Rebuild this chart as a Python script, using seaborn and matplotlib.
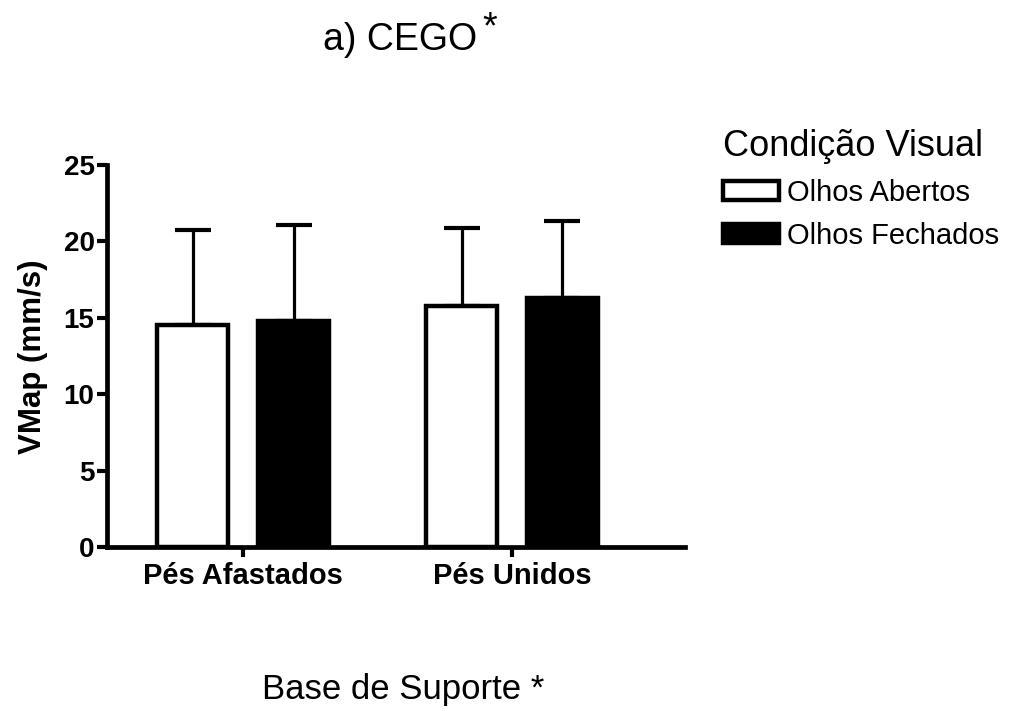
import matplotlib
matplotlib.use("Agg")
import matplotlib.pyplot as plt
import pandas as pd
import seaborn as sns

# Mean postural sway velocity (VMap) with standard deviations
bases = ["Pés Afastados", "Pés Afastados", "Pés Unidos", "Pés Unidos"]
conditions = ["Olhos Abertos", "Olhos Fechados", "Olhos Abertos", "Olhos Fechados"]
means = [14.5, 14.8, 15.8, 16.3]
sds = [6.25, 6.25, 5.05, 5.0]
y_ticks = [0, 5, 10, 15, 20, 25]

df = pd.DataFrame({"Base": bases, "Condição": conditions, "VMap": means, "SD": sds})

sns.set_theme(style="ticks")
plt.rcParams["font.family"] = ["Liberation Sans", "DejaVu Sans"]
plt.rcParams.update({
    "text.color": "black",
    "axes.labelcolor": "black",
    "axes.edgecolor": "black",
    "xtick.color": "black",
    "ytick.color": "black",
})

fig = plt.figure(figsize=(10.23, 7.11), dpi=100)
ax = fig.add_axes([0.1046, 0.2307, 0.5650, 0.5373])

sns.barplot(
    data=df, x="Base", y="VMap", hue="Condição",
    palette={"Olhos Abertos": "white", "Olhos Fechados": "black"},
    edgecolor="black", linewidth=3.2, width=0.75, gap=0.3,
    errorbar=None, ax=ax, zorder=2,
)

# upper-only SD error bars at each bar centre
sd_lookup = {(b, c): s for b, c, s in zip(bases, conditions, sds)}
cats = list(dict.fromkeys(bases))
hues = list(dict.fromkeys(conditions))
xs, ys, es = [], [], []
for hue, container in zip(hues, ax.containers):
    for cat, patch in zip(cats, container):
        xs.append(patch.get_x() + patch.get_width() / 2)
        ys.append(patch.get_height())
        es.append(sd_lookup[(cat, hue)])
ax.errorbar(xs, ys, yerr=[[0] * len(es), es], fmt="none", ecolor="black",
            elinewidth=2.3, capsize=13, capthick=3, zorder=1)

ax.set_ylim(0, 25)
ax.set_yticks(y_ticks)
ax.set_xlim(-0.506, 1.643)
sns.despine(ax=ax)
for side in ("left", "bottom"):
    ax.spines[side].set_linewidth(3.4)
    ax.spines[side].set_color("black")
ax.tick_params(axis="both", length=7, width=3, colors="black")
ax.tick_params(axis="y", pad=2, labelsize=20)
ax.tick_params(axis="x", pad=4, labelsize=21)
for lbl in ax.get_xticklabels() + ax.get_yticklabels():
    lbl.set_fontweight("bold")

ax.set_ylabel("VMap (mm/s)", fontsize=22.5, fontweight="bold", va="center")
ax.yaxis.set_label_coords(-0.128, 0.497)
ax.set_xlabel("Base de Suporte *", fontsize=25, va="center")
ax.xaxis.set_label_coords(0.512, -0.372)

handles, labels = ax.get_legend_handles_labels()
ax.legend(handles, labels, title="Condição Visual", loc="upper left",
          bbox_to_anchor=(0.7067, 0.819), bbox_transform=fig.transFigure,
          frameon=False, fontsize=21, title_fontsize=26, handlelength=1.92,
          handleheight=0.6, handletextpad=0.27, labelspacing=0.52,
          alignment="left", borderaxespad=0, borderpad=0)

fig.text(0.391, 0.944, "a) CEGO", ha="center", va="center", fontsize=27)
fig.text(0.479, 0.960, "*", ha="center", va="center", fontsize=27)

fig.savefig("out.png", dpi=100, facecolor="white")
